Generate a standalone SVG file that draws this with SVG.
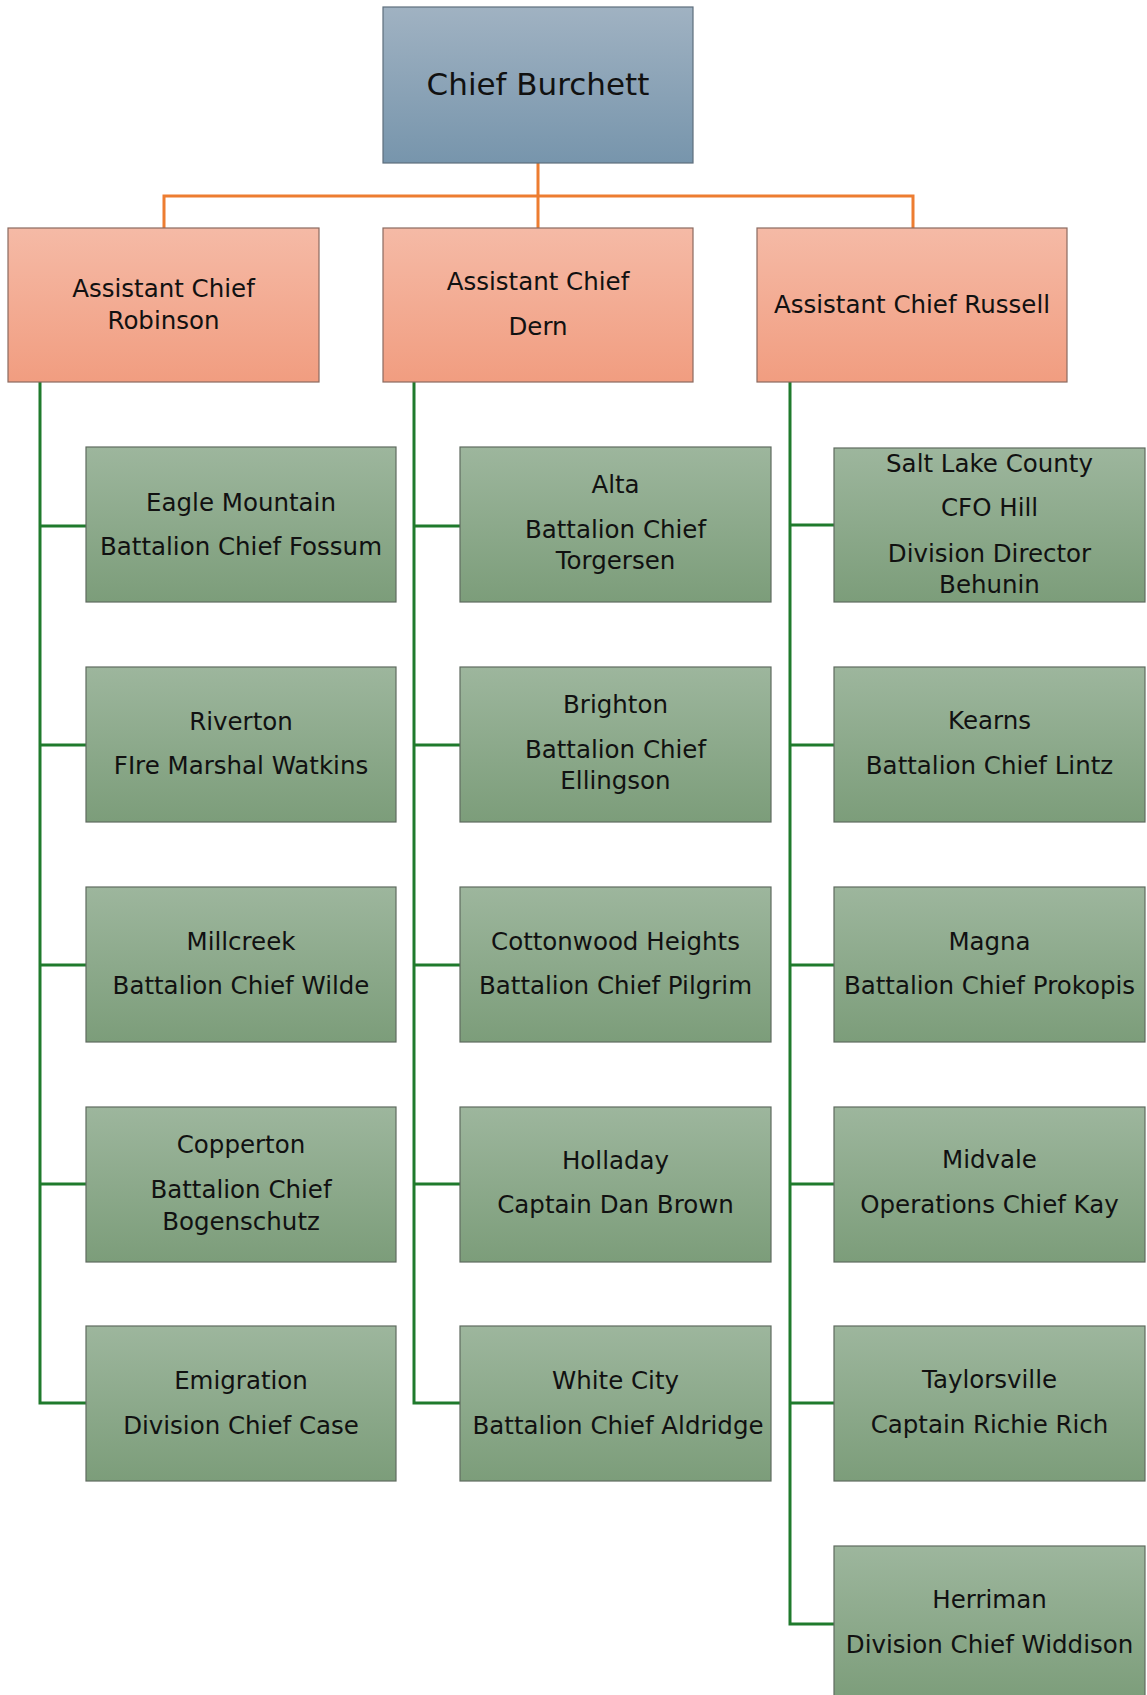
<svg xmlns="http://www.w3.org/2000/svg" width="1147" height="1695" viewBox="0 0 1147 1695">
<defs>
<linearGradient id="gBlue" x1="0" y1="0" x2="0" y2="1"><stop offset="0" stop-color="#a0b2c2"/><stop offset="1" stop-color="#7795ac"/></linearGradient>
<linearGradient id="gOrange" x1="0" y1="0" x2="0" y2="1"><stop offset="0" stop-color="#f5baa6"/><stop offset="1" stop-color="#f19d80"/></linearGradient>
<linearGradient id="gGreen" x1="0" y1="0" x2="0" y2="1"><stop offset="0" stop-color="#9db69d"/><stop offset="1" stop-color="#7c9d7a"/></linearGradient>
<style>
.blue{fill:url(#gBlue);stroke:#5e6e7c;stroke-width:1.2}
.orange{fill:url(#gOrange);stroke:#8a6a60;stroke-width:1.2}
.green{fill:url(#gGreen);stroke:#5f6b5f;stroke-width:1.2}
text{font-family:"DejaVu Sans","Liberation Sans",sans-serif;fill:#111;text-anchor:middle;font-size:24.5px}
.big{font-size:31px}
.oc{fill:none;stroke:#ed7d31;stroke-width:3}
.gc{fill:none;stroke:#1f7a2c;stroke-width:3}
</style>
</defs>
<g id="connectors">
<path class="oc" d="M538 163V196M164 228V196H913V228M538 196V228"/>
<path class="gc" d="M40 382V1403H86M40 526H86M40 745H86M40 965H86M40 1184H86"/>
<path class="gc" d="M414 382V1403H460M414 526H460M414 745H460M414 965H460M414 1184H460"/>
<path class="gc" d="M790 382V1624H834M790 525H834M790 745H834M790 965H834M790 1184H834M790 1403H834"/>
</g>
<g id="chief"><rect class="blue" x="383" y="7" width="310" height="156"/><text class="big" x="538" y="95">Chief Burchett</text></g>
<g id="robinson"><rect class="orange" x="8" y="228" width="311" height="154"/><text x="163.5" y="297">Assistant Chief</text><text x="163.5" y="329">Robinson</text></g>
<g id="dern"><rect class="orange" x="383" y="228" width="310" height="154"/><text x="538" y="290">Assistant Chief</text><text x="538" y="335">Dern</text></g>
<g id="russell"><rect class="orange" x="757" y="228" width="310" height="154"/><text x="912" y="313">Assistant Chief Russell</text></g>

<g id="eagle"><rect class="green" x="86" y="447" width="310" height="155"/><text x="241" y="511">Eagle Mountain</text><text x="241" y="555">Battalion Chief Fossum</text></g>
<g id="riverton"><rect class="green" x="86" y="667" width="310" height="155"/><text x="241" y="730">Riverton</text><text x="241" y="774">FIre Marshal Watkins</text></g>
<g id="millcreek"><rect class="green" x="86" y="887" width="310" height="155"/><text x="241" y="950">Millcreek</text><text x="241" y="994">Battalion Chief Wilde</text></g>
<g id="copperton"><rect class="green" x="86" y="1107" width="310" height="155"/><text x="241" y="1153">Copperton</text><text x="241" y="1198">Battalion Chief</text><text x="241" y="1230">Bogenschutz</text></g>
<g id="emigration"><rect class="green" x="86" y="1326" width="310" height="155"/><text x="241" y="1389">Emigration</text><text x="241" y="1434">Division Chief Case</text></g>

<g id="alta"><rect class="green" x="460" y="447" width="311" height="155"/><text x="615.5" y="493">Alta</text><text x="615.5" y="538">Battalion Chief</text><text x="615.5" y="569">Torgersen</text></g>
<g id="brighton"><rect class="green" x="460" y="667" width="311" height="155"/><text x="615.5" y="713">Brighton</text><text x="615.5" y="758">Battalion Chief</text><text x="615.5" y="789">Ellingson</text></g>
<g id="cottonwood"><rect class="green" x="460" y="887" width="311" height="155"/><text x="615.5" y="950">Cottonwood Heights</text><text x="615.5" y="994">Battalion Chief Pilgrim</text></g>
<g id="holladay"><rect class="green" x="460" y="1107" width="311" height="155"/><text x="615.5" y="1169">Holladay</text><text x="615.5" y="1213">Captain Dan Brown</text></g>
<g id="whitecity"><rect class="green" x="460" y="1326" width="311" height="155"/><text x="615.5" y="1389">White City</text><text x="618" y="1434">Battalion Chief Aldridge</text></g>

<g id="saltlake"><rect class="green" x="834" y="448" width="311" height="154"/><text x="989.5" y="472">Salt Lake County</text><text x="989.5" y="516">CFO Hill</text><text x="989.5" y="562">Division Director</text><text x="989.5" y="593">Behunin</text></g>
<g id="kearns"><rect class="green" x="834" y="667" width="311" height="155"/><text x="989.5" y="729">Kearns</text><text x="989.5" y="774">Battalion Chief Lintz</text></g>
<g id="magna"><rect class="green" x="834" y="887" width="311" height="155"/><text x="989.5" y="950">Magna</text><text x="989.5" y="994">Battalion Chief Prokopis</text></g>
<g id="midvale"><rect class="green" x="834" y="1107" width="311" height="155"/><text x="989.5" y="1168">Midvale</text><text x="989.5" y="1213">Operations Chief Kay</text></g>
<g id="taylorsville"><rect class="green" x="834" y="1326" width="311" height="155"/><text x="989.5" y="1388">Taylorsville</text><text x="989.5" y="1433">Captain Richie Rich</text></g>
<g id="herriman"><rect class="green" x="834" y="1546" width="311" height="155"/><text x="989.5" y="1608">Herriman</text><text x="989.5" y="1653">Division Chief Widdison</text></g>
</svg>
